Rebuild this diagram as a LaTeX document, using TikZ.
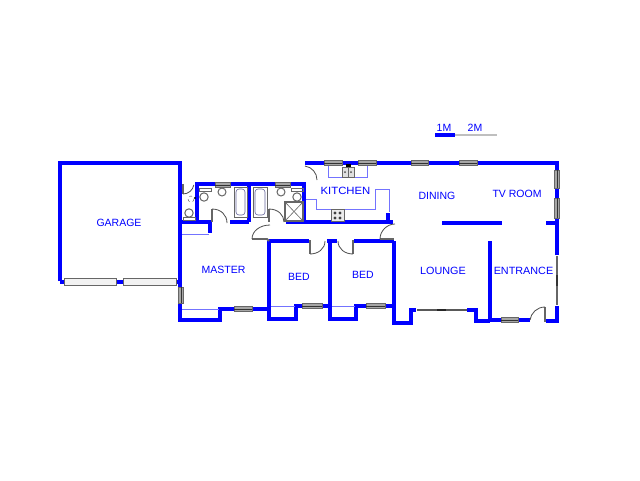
\documentclass[tikz,border=0pt]{standalone}
\usepackage{fontspec}
\setmainfont{Liberation Sans}
\tikzset{
  wallline/.style={draw=blue,line width=4pt,line join=miter,line cap=square},
  thinblue/.style={draw=blue!55!white,line width=1pt},
  fixture/.style={draw=black!60,line width=1pt},
  doorleaf/.style={draw=black!60,line width=1.8pt},
  doorarc/.style={draw=black!70,line width=.8pt},
  roomlabel/.style={text=blue,font=\fontsize{10.5}{12}\selectfont,inner sep=0pt},
  winframe/.style={draw=black!60,fill=black!35,line width=.8pt},
  garagewin/.style={draw=black!60,fill=black!5,line width=.8pt}
}
\newcommand{\winh}[3]{\draw[winframe] (#1,#3-2.5) rectangle (#2,#3+2.5);\draw[black!80,line width=.6pt] (#1,#3)--(#2,#3);}
\newcommand{\winv}[3]{\draw[winframe] (#3-2.5,#1) rectangle (#3+2.5,#2);\draw[black!80,line width=.6pt] (#3,#1)--(#3,#2);}
\begin{document}
\begin{tikzpicture}[x=1pt,y=-1pt]
\useasboundingbox[fill=white] (0,0) rectangle (640,480);
% walls
\draw[wallline] (60,281) -- (60,163) -- (180,163) -- (180,320) -- (220,320) -- (220,309) -- (269,309);
\draw[wallline] (60,282) -- (180,282);
\draw[wallline] (269,241) -- (269,319) -- (296,319) -- (296,306) -- (330,306);
\draw[wallline] (330,241) -- (330,319) -- (356,319) -- (356,306) -- (394,306);
\draw[wallline] (394,241) -- (394,323) -- (411,323) -- (411,310) -- (416,310);
\draw[wallline] (467,310) -- (476,310) -- (476,321) -- (490,321);
\draw[wallline] (490,241) -- (490,321);
\draw[wallline] (490,320) -- (530,320);
\draw[wallline] (546,321) -- (557,321) -- (557,306);
\draw[wallline] (557,255) -- (557,163) -- (305,163);
\draw[wallline] (546,223) -- (557,223);
\draw[wallline] (442,223) -- (502,223);
\draw[wallline] (181,222) -- (210,222) -- (210,233);
\draw[wallline] (197,222) -- (197,184) -- (304,184);
\draw[wallline] (304,182) -- (304,222);
\draw[wallline] (230,222) -- (249,222);
\draw[wallline] (249,184) -- (249,222);
\draw[wallline] (286,222) -- (393,222);
\draw[wallline] (388,213) -- (388,222);
\draw[wallline] (269,241) -- (309,241);
\draw[wallline] (327,241) -- (337,241);
\draw[wallline] (354,241) -- (394,241);
% thin counters
\draw[thinblue] (182,234) -- (209,234);
\draw[thinblue] (182,309) -- (219,309);
\draw[thinblue] (271,306) -- (295,306);
\draw[thinblue] (332,306) -- (355,306);
\draw[thinblue] (306,199) -- (316,199) -- (316,209) -- (375,209) -- (375,189) -- (389,189) -- (389,212);
\draw[thinblue] (328,165) -- (328,177) -- (367,177) -- (367,165);
% windows
\draw[garagewin] (64,278) rectangle (116,285);
\draw[garagewin] (123,278) rectangle (176,285);
\winv{287}{303}{181}
\winh{234}{252}{309}
\winh{302}{322}{306}
\winh{366}{385}{306}
\winh{501}{518}{320}
\winh{215}{230}{185}
\winh{275}{290}{185}
\winh{324}{342}{163}
\winh{358}{376}{163}
\winh{411}{428}{163}
\winh{459}{477}{163}
\winv{170}{188}{557}
\winv{198}{218}{557}
\draw[black!60,line width=1.3pt] (557,256) -- (557,305);
\draw[black!80,line width=1.3pt] (557,275) -- (557,286);
\draw[black!65,line width=1.1pt] (417,310) -- (467,310);
\draw[black!85,line width=1.3pt] (437,310) -- (446,310);
% doors
\draw[doorleaf] (183,184) -- (183,194);
\draw[doorarc] (183,194) arc[start angle=90,end angle=10,radius=11];
\draw[doorleaf] (212,209) -- (212,222);
\draw[doorarc] (212,209) .. controls (221,209) and (227,215) .. (227,223);
\draw[doorleaf] (269,209) -- (269,222);
\draw[doorarc] (269,209) .. controls (278,209) and (284,215) .. (284,222);
\draw[doorleaf] (252,239) -- (267,239) -- (269,241);
\draw[doorarc] (252,239) .. controls (252,231) and (260,225) .. (270,225);
\draw[doorleaf] (310,240) -- (310,254);
\draw[doorarc] (310,254) .. controls (318,254) and (325,249) .. (325,241);
\draw[doorleaf] (353,240) -- (353,254);
\draw[doorarc] (353,254) .. controls (345,254) and (338,249) .. (338,241);
\draw[doorleaf] (380,239) -- (394,239);
\draw[doorarc] (380,239) .. controls (380,231) and (387,224) .. (395,224);
\draw[doorarc] (305,166) .. controls (312,167) and (317,173) .. (317,180);
\draw[doorleaf] (545,307) -- (545,322);
\draw[doorarc] (545,307) .. controls (537,307) and (531,313) .. (530,320);
% sanitary
\draw[fixture] (183.5,217) rectangle (195,220.5);
\draw[fixture] (189,213) circle[radius=4.2];
\draw[fixture,dashed,line width=.5pt] (191,199) circle[radius=3];
\fill[black] (195,198) circle[radius=1.2];
\draw[fixture] (199,188) rectangle (211,191);
\draw[fixture] (204,197) circle[radius=4.2];
\draw[fixture] (222,192) circle[radius=4];
\draw[fixture] (281,192) circle[radius=4];
\draw[fixture] (291,188) rectangle (303,191);
\draw[fixture] (297,197) circle[radius=4.2];
\draw[fixture] (234,187) rectangle (247,217);
\draw[draw=blue!35!black!60,line width=.6pt,rounded corners=3pt] (236,189) rectangle (245,215);
\draw[fixture] (253,187) rectangle (267,217);
\draw[draw=blue!35!black!60,line width=.6pt,rounded corners=3pt] (255,189) rectangle (265,215);
\draw[fixture,line width=1.1pt] (285,202) rectangle (303,221);
\draw[fixture,line width=.6pt] (285,202) -- (303,221) (303,202) -- (285,221);
% kitchen units
\draw[fixture,fill=black!12] (342,167) rectangle (354,177);
\draw[fixture,line width=.5pt] (348,167) -- (348,177);
\fill[black] (346,164) rectangle (351,167);
\fill[black!70] (345,172) circle[radius=1] (351,172) circle[radius=1];
\draw[fixture,fill=black!8] (331,209) rectangle (344,221);
\fill[black!75] (335,213) circle[radius=1.6] (340,213) circle[radius=1.6] (335,218) circle[radius=1.6] (340,218) circle[radius=1.6];
% scale
\draw[black!25,line width=2.8pt] (455,135) -- (497,135);
\draw[blue,line width=3.4pt] (435,135) -- (455,135);
% labels
\node[roomlabel] (garage) at (119,222.5) {GARAGE};
\node[roomlabel] (master) at (223.5,269.5) {MASTER};
\node[roomlabel] (bed1) at (299,277) {BED};
\node[roomlabel] (bed2) at (363,274.5) {BED};
\node[roomlabel,xscale=1.08] (kitchen) at (345.5,190.5) {KITCHEN};
\node[roomlabel] (dining) at (437,195.5) {DINING};
\node[roomlabel] (tvroom) at (517,193.5) {TV ROOM};
\node[roomlabel,xscale=1.03] (lounge) at (443,270.5) {LOUNGE};
\node[roomlabel,xscale=1.03] (entrance) at (523.5,271) {ENTRANCE};
\node[roomlabel] (onem) at (444,128) {1M};
\node[roomlabel] (twom) at (475,128) {2M};
\end{tikzpicture}
\end{document}
